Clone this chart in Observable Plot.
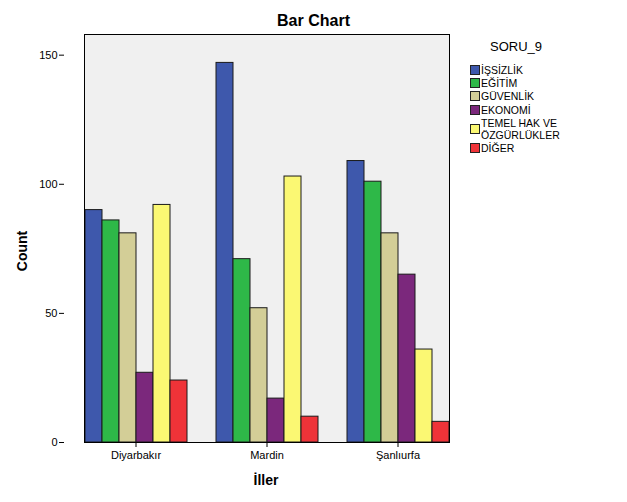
<!DOCTYPE html>
<html><head><meta charset="utf-8">
<script src="https://cdn.jsdelivr.net/npm/d3@7"></script>
<script src="https://cdn.jsdelivr.net/npm/@observablehq/plot@0.6"></script>
<style>
body{margin:0;background:#fff;font-family:"Liberation Sans",Arial,sans-serif;color:#000}
#wrap{position:relative;width:627px;height:502px;overflow:hidden;background:#fff}
#chart,#yaxis{position:absolute;left:0;top:0}
.t{position:absolute;font-weight:bold;white-space:nowrap}
#title{top:12px;left:0;width:627px;text-align:center;font-size:16px}
#ylab{left:22px;top:251px;font-size:14px;transform:translate(-50%,-50%) rotate(-90deg)}
#xlab{left:266px;top:480px;font-size:14px;transform:translate(-50%,-50%)}
#legend{position:absolute;left:470px;top:39px;font-size:10.5px}
#legend .head{font-size:13px;margin-left:20px;margin-bottom:9px}
#legend .row{display:flex;align-items:center;height:13.3px}
#legend .row.two{height:24px;margin-top:1px;margin-bottom:0px}
#legend .sw{width:8px;height:8px;border:1px solid #222;margin-right:1px;flex:none}
#legend .lb div{height:12px;line-height:12px}
</style></head>
<body>
<div id="wrap">
  <div id="chart"></div>
  <div id="yaxis"></div>
  <div class="t" id="title">Bar Chart</div>
  <div class="t" id="ylab">Count</div>
  <div class="t" id="xlab">İller</div>
  <div id="legend"></div>
</div>
<script>
const provinces = ["Diyarbakır", "Mardin", "Şanlıurfa"];
const categories = ["İŞSİZLİK", "EĞİTİM", "GÜVENLİK", "EKONOMİ", "TEMEL HAK VE ÖZGÜRLÜKLER", "DİĞER"];
const legendLines = [["İŞSİZLİK"], ["EĞİTİM"], ["GÜVENLİK"], ["EKONOMİ"], ["TEMEL HAK VE", "ÖZGÜRLÜKLER"], ["DİĞER"]];
const colors = ["#3e58ac", "#2eb848", "#d3ce97", "#7b287c", "#fbf873", "#ef3338"];
const diyarbakir = [90, 86, 81, 27, 92, 24];
const mardin = [147, 71, 52, 17, 103, 10];
const sanliurfa = [109, 101, 81, 65, 36, 8];
const yTicks = [0, 50, 100, 150];
const yDomain = [0, 158];

const series = [diyarbakir, mardin, sanliurfa];
const data = [];
provinces.forEach((p, i) => categories.forEach((c, j) => data.push({province: p, category: c, value: series[i][j]})));

const common = {
  width: 627, height: 502,
  marginTop: 34, marginBottom: 60, marginLeft: 64, marginRight: 158,
  style: {fontFamily: "'Liberation Sans', Arial, sans-serif", fontSize: "11px", background: "transparent", color: "#000"}
};

const chart = Plot.plot({
  ...common,
  fx: {domain: provinces, paddingInner: 0.211, paddingOuter: 0.151, label: null, axis: null},
  x: {domain: categories, padding: 0, axis: null},
  y: {domain: yDomain, axis: null},
  color: {domain: categories, range: colors},
  marks: [
    Plot.frame({facet: "super", fill: "#f0f0f0", stroke: "#000"}),
    Plot.barY(data, {fx: "province", x: "category", y: "value", fill: "category", stroke: "#1a1a1a", strokeWidth: 1}),
    Plot.axisFx({anchor: "bottom", tickSize: 5, tickPadding: 4, label: null, stroke: "#000"}),
    Plot.frame({facet: "super", stroke: "#000"})
  ]
});
document.getElementById("chart").appendChild(chart);

const yaxis = Plot.plot({
  ...common,
  y: {domain: yDomain, axis: null},
  marks: [
    Plot.axisY({ticks: yTicks, tickSize: 5, tickPadding: 2, label: null, stroke: "#000"})
  ]
});
document.getElementById("yaxis").appendChild(yaxis);

const lg = document.getElementById("legend");
lg.innerHTML = '<div class="head">SORU_9</div>' + categories.map((c, i) =>
  `<div class="row${legendLines[i].length > 1 ? " two" : ""}"><span class="sw" style="background:${colors[i]}"></span><span class="lb">${legendLines[i].map(s => `<div>${s}</div>`).join("")}</span></div>`).join("");
</script>
</body></html>
